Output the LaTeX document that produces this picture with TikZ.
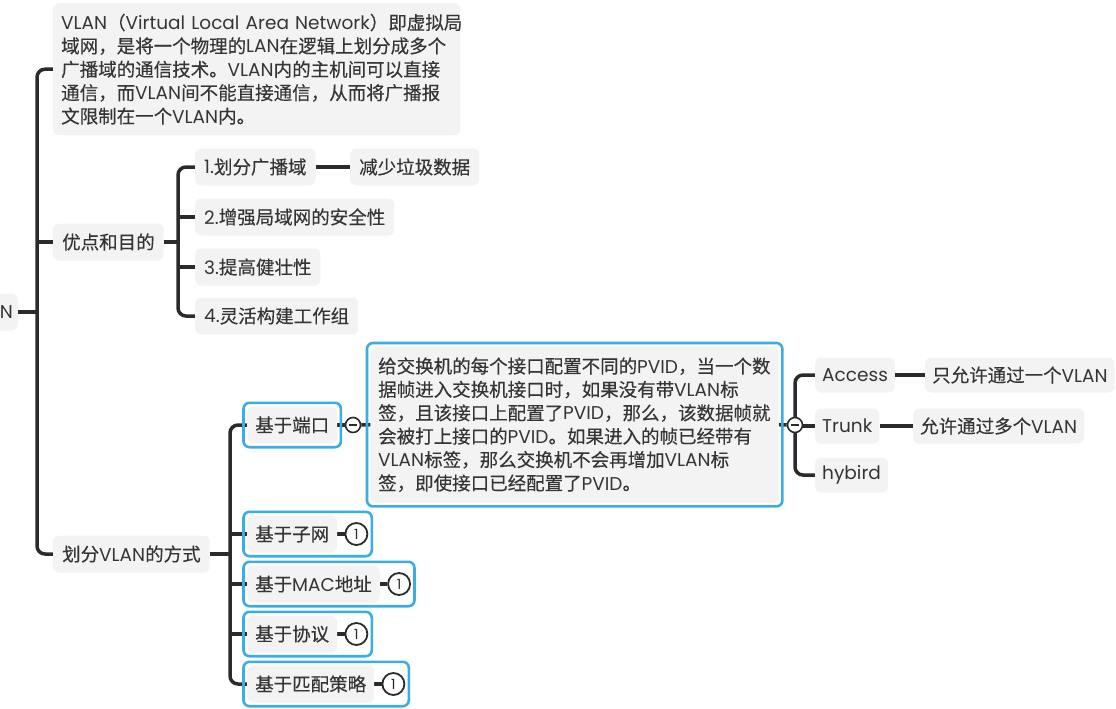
\documentclass[tikz,border=0pt]{standalone}
\usepackage{fontspec}
\setmainfont{Noto Sans CJK SC}[FakeBold=0.25]
\newfontfamily\LTf{Poppins}
\newcommand\LT[1]{{\LTf #1}}
\usetikzlibrary{fit,backgrounds}
\definecolor{gbg}{HTML}{F3F3F3}
\definecolor{tc}{HTML}{353535}
\definecolor{lc}{HTML}{2B2B2B}
\definecolor{selb}{HTML}{3BADE6}
\tikzset{
  topic/.style={fill=gbg, rounded corners=6pt, inner xsep=9pt, inner ysep=0pt,
    minimum height=37pt, text=tc, font=\fontsize{18.5pt}{23.4pt}\selectfont},
  desc/.style={topic, text width=#1, align=left, inner xsep=8pt},
  sel/.style={draw=selb, line width=2.6pt, rounded corners=6pt, inner sep=3.5pt},
  conn/.style={draw=lc, line width=3.5pt, rounded corners=8pt},
  cnum/.style={circle, draw=lc, fill=white, line width=1.8pt, minimum size=22pt,
    inner sep=0pt, text=lc, font=\LTf\fontsize{14pt}{14pt}\selectfont},
  cminus/.style={circle, draw=lc, fill=white, line width=1.6pt, minimum size=15pt,
    inner sep=0pt, path picture={\draw[lc, line width=1.5pt]
      ([xshift=-4pt]path picture bounding box.center) --
      ([xshift=4pt]path picture bounding box.center);}}
}
\begin{document}
\begin{tikzpicture}[x=1pt,y=-1pt]
\useasboundingbox (0,0) rectangle (1116,709);

% root and first level
\node[topic, anchor=east, inner xsep=5pt] (root) at (18,312) {\LT{N}};
\node[desc=391pt, anchor=north west, minimum height=132pt] (d1) at (53,3) {%
\mbox{\LT{VLAN}（\LT{Virtual Local Area Network}）即虚拟局}\\
\mbox{域网，是将一个物理的\LT{LAN}在逻辑上划分成多个}\\
\mbox{广播域的通信技术。\LT{VLAN}内的主机间可以直接}\\
\mbox{通信，而\LT{VLAN}间不能直接通信，从而将广播报}\\
\mbox{文限制在一个\LT{VLAN}内。}};
\node[topic, anchor=west] (adv) at (53,242) {优点和目的};
\node[topic, anchor=west] (way) at (53,554) {划分\LT{VLAN}的方式};

% advantages
\node[topic, anchor=west] (a1) at (195,167) {\LT{1.}划分广播域};
\node[topic, anchor=west] (a1c) at (350,167) {减少垃圾数据};
\node[topic, anchor=west] (a2) at (195,217) {\LT{2.}增强局域网的安全性};
\node[topic, anchor=west] (a3) at (195,267) {\LT{3.}提高健壮性};
\node[topic, anchor=west] (a4) at (195,316) {\LT{4.}灵活构建工作组};

% ways
\node[topic, anchor=west, inner xsep=8pt] (p1) at (247,425) {基于端口};
\node[topic, anchor=west, inner xsep=8pt] (p2) at (247,534) {基于子网};
\node[topic, anchor=west, inner xsep=8pt] (p3) at (247,584) {基于\LT{MAC}地址};
\node[topic, anchor=west, inner xsep=8pt] (p4) at (247,634) {基于协议};
\node[topic, anchor=west, inner xsep=8pt] (p5) at (247,684) {基于匹配策略};

\node[cnum] (c2) at ([xshift=19pt]p2.east) {1};
\node[cnum] (c3) at ([xshift=19pt]p3.east) {1};
\node[cnum] (c4) at ([xshift=19pt]p4.east) {1};
\node[cnum] (c5) at ([xshift=19pt]p5.east) {1};

\node[desc=393pt, anchor=north west, minimum height=156pt, inner xsep=7.5pt] (d2) at (370.5,346.5) {%
\mbox{给交换机的每个接口配置不同的\LT{PVID}，当一个数}\\
\mbox{据帧进入交换机接口时，如果没有带\LT{VLAN}标}\\
\mbox{签，且该接口上配置了\LT{PVID}，那么，该数据帧就}\\
\mbox{会被打上接口的\LT{PVID}。如果进入的帧已经带有}\\
\mbox{\LT{VLAN}标签，那么交换机不会再增加\LT{VLAN}标}\\
\mbox{签，即使接口已经配置了\LT{PVID}。}};

\node[cminus] (m1) at (353,425) {};

% port types
\node[topic, anchor=west, inner xsep=7pt, minimum height=35pt] (acc) at (815,375) {\LT{Access}};
\node[topic, anchor=west, inner xsep=7pt, minimum height=35pt] (ac2) at (925,375) {只允许通过一个\LT{VLAN}};
\node[topic, anchor=west, inner xsep=7pt, minimum height=35pt] (trk) at (815,426) {\LT{Trunk}};
\node[topic, anchor=west, inner xsep=7pt, minimum height=35pt] (tr2) at (913,426) {允许通过多个\LT{VLAN}};
\node[topic, anchor=west, inner xsep=7pt, minimum height=35pt] (hyb) at (815,475) {\LT{hybird}};

\coordinate (tk) at (37,312);
\coordinate (b1) at (178,242);
\coordinate (b2) at (230,554);
\coordinate (b3) at (795,425);

\node[cminus] (m2) at (b3) {};

% selection outlines
\node[sel, fit=(p1)] (s1) {};
\node[sel, fit=(p2)(c2)] (s2) {};
\node[sel, fit=(p3)(c3)] (s3) {};
\node[sel, fit=(p4)(c4)] (s4) {};
\node[sel, fit=(p5)(c5)] (s5) {};
\node[sel, fit=(d2)] (sd) {};

\begin{scope}[on background layer]
\draw[conn] (root.east) -- (tk);
\draw[conn] (d1.west) -| (tk) |- (way.west);
\draw[conn] (adv.west) -- (adv.west -| tk);

\draw[conn] (adv.east) -- (b1);
\draw[conn] (a1.west) -| (b1) |- (a4.west);
\draw[conn] (a2.west) -- (a2.west -| b1);
\draw[conn] (a3.west) -- (a3.west -| b1);
\draw[conn] (a1.east) -- (a1c.west);

\draw[conn] (way.east) -- (b2);
\draw[conn] (p1.west) -| (b2) |- (p5.west);
\draw[conn] (p2.west) -- (p2.west -| b2);
\draw[conn] (p3.west) -- (p3.west -| b2);
\draw[conn] (p4.west) -- (p4.west -| b2);

\draw[conn] (p2.east) -- (c2.west);
\draw[conn] (p3.east) -- (c3.west);
\draw[conn] (p4.east) -- (c4.west);
\draw[conn] (p5.east) -- (c5.west);

\draw[conn] (p1.east) -- (m1.west);
\draw[conn] (m1.east) -- (d2.west);
\draw[conn] (d2.east) -- (m2.west);

\draw[conn] (acc.west) -| (b3) |- (hyb.west);
\draw[conn] (trk.west) -- (trk.west -| b3);
\draw[conn] (acc.east) -- (ac2.west);
\draw[conn] (trk.east) -- (tr2.west);
\end{scope}
\end{tikzpicture}
\end{document}
